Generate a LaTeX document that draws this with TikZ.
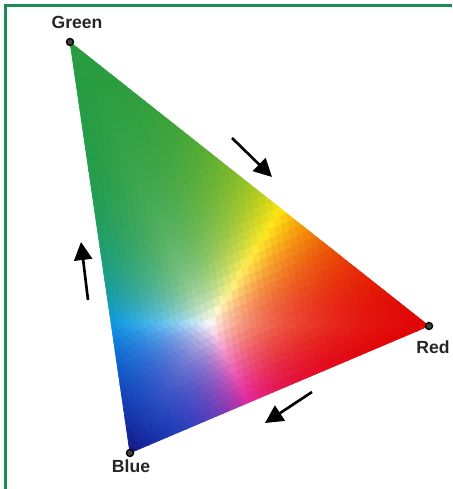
\documentclass[tikz,border=0pt]{standalone}
\usepackage{fontspec}
\setmainfont{Liberation Sans}
\usetikzlibrary{arrows.meta}

\definecolor{framegreen}{RGB}{24,142,84}

% colour of one small cell from its red and blue weights
\newcommand{\setbary}[2]{%
  \pgfmathsetmacro\bR{#1}\pgfmathsetmacro\bB{#2}\pgfmathsetmacro\bG{1-\bR-\bB}%
  \pgfmathsetmacro\pR{(\bR/0.33)^1.2}\pgfmathsetmacro\pG{(\bG/0.23)^1.2}\pgfmathsetmacro\pB{(\bB/0.50)^1.2}%
  \pgfmathsetmacro\pM{max(\pR,\pG,\pB)}%
  \pgfmathsetmacro\wR{\pR/\pM}\pgfmathsetmacro\wG{\pG/\pM}\pgfmathsetmacro\wB{\pB/\pM}%
  \pgfmathsetmacro\sW{min(\wR,\wG,\wB,0.999)}%
  \pgfmathsetmacro\wR{\sW+(1-\sW)*(max((\wR-\sW)/(1-\sW),0.0001))^1.4}%
  \pgfmathsetmacro\wG{\sW+(1-\sW)*(max((\wG-\sW)/(1-\sW),0.0001))^1.4}%
  \pgfmathsetmacro\wB{\sW+(1-\sW)*(max((\wB-\sW)/(1-\sW),0.0001))^1.4}%
  \pgfmathsetmacro\kR{\wR*(1-\wG)*(1-\wB)}\pgfmathsetmacro\kG{(1-\wR)*\wG*(1-\wB)}%
  \pgfmathsetmacro\kB{(1-\wR)*(1-\wG)*\wB}\pgfmathsetmacro\kY{\wR*\wG*(1-\wB)}%
  \pgfmathsetmacro\kC{(1-\wR)*\wG*\wB}\pgfmathsetmacro\kM{\wR*(1-\wG)*\wB}%
  \pgfmathsetmacro\kW{\wR*\wG*\wB}%
  \pgfmathsetmacro\cR{0.88*\kR+0.15*\kG+0.08*\kB+1.00*\kY+0.06*\kC+0.93*\kM+\kW}%
  \pgfmathsetmacro\cG{0.02*\kR+0.61*\kG+0.34*\kB+0.90*\kY+0.66*\kC+0.16*\kM+\kW}%
  \pgfmathsetmacro\cB{0.02*\kR+0.25*\kG+0.86*\kB+0.05*\kY+0.93*\kC+0.62*\kM+\kW}%
  \pgfmathsetmacro\tB{\bB^6}%
  \pgfmathsetmacro\cR{\cR*(1-\tB)+0.08*\tB}\pgfmathsetmacro\cG{\cG*(1-\tB)+0.08*\tB}\pgfmathsetmacro\cB{\cB*(1-\tB)+0.50*\tB}%
  \definecolor{tc}{rgb}{\cR,\cG,\cB}%
}

\tikzset{
    corner/.style={circle, draw=black, fill=black!75, line width=0.8pt, minimum size=0.14cm, inner sep=0pt},
    cornerlabel/.style={font=\bfseries\fontsize{10}{12}\selectfont, text=black!85, inner sep=1pt},
    flow/.style={-{Triangle[length=0.36cm,width=0.36cm]}, line width=1.5pt, black},
    cell/.style={fill=tc, draw=tc, line width=0.4pt, line join=round}
}

\begin{document}
\begin{tikzpicture}[x=0.02cm, y=-0.02cm]
\useasboundingbox (0,0) rectangle (452,489);

% ===== frame =====
\draw[framegreen, line width=0.07cm] (5.5,489) |- (452,5.5);

% ===== colour triangle =====
\begin{scope}[shift={(70,42)}, x={(0.149583cm,-0.118333cm)}, y={(0.025cm,-0.17125cm)}]
  \foreach \i in {0,...,47} {
    \pgfmathtruncatemacro\jmax{47-\i}
    \foreach \j in {0,...,\jmax} {
      \setbary{(\i+1/3)/48}{(\j+1/3)/48}
      \path[cell] (\i,\j) -- (\i+1,\j) -- (\i,\j+1) -- cycle;
      \ifnum\j<\jmax
        \setbary{(\i+2/3)/48}{(\j+2/3)/48}
        \path[cell] (\i+1,\j) -- (\i+1,\j+1) -- (\i,\j+1) -- cycle;
      \fi
    }
  }
\end{scope}

% ===== corners and names =====
\node[corner] (gdot) at (70,42) {};
\node[corner] (rdot) at (429,326) {};
\node[corner] (bdot) at (130,453) {};
\node[cornerlabel] (glabel) at (77,22) {Green};
\node[cornerlabel] (rlabel) at (433,347) {Red};
\node[cornerlabel] (blabel) at (131,466) {Blue};

% ===== arrows =====
\coordinate (a1s) at (232,138);
\coordinate (a1e) at (272,177);
\coordinate (a2s) at (88,300);
\coordinate (a2e) at (81,242);
\coordinate (a3s) at (312,392);
\coordinate (a3e) at (265,423);
\draw[flow] (a1s) -- (a1e);
\draw[flow] (a2s) -- (a2e);
\draw[flow] (a3s) -- (a3e);

\end{tikzpicture}
\end{document}
